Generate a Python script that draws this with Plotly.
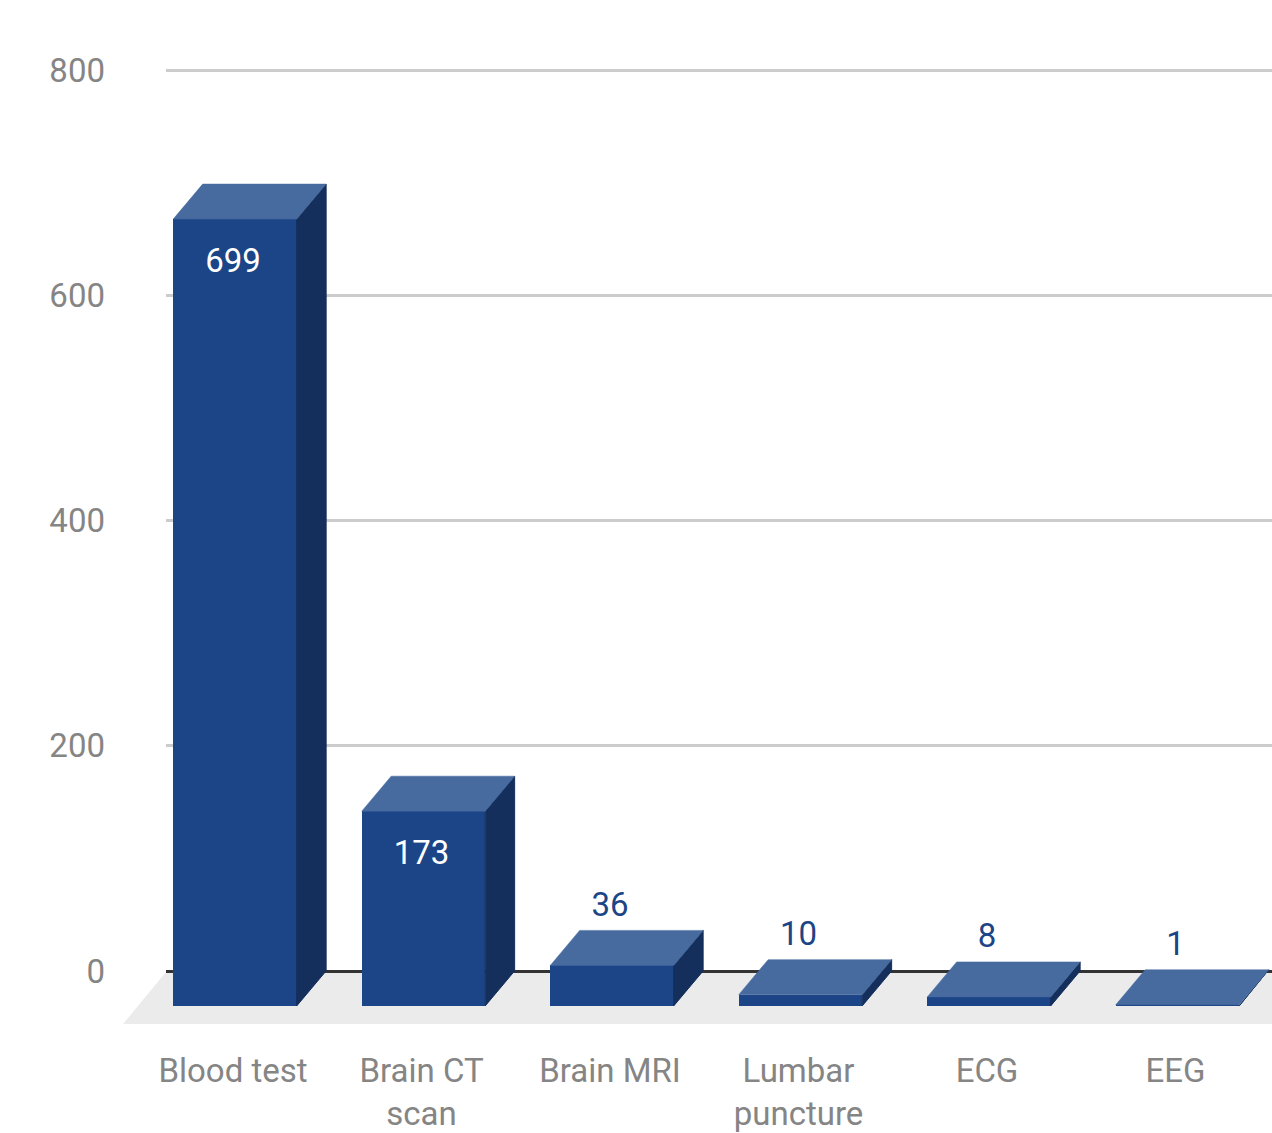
import plotly.graph_objects as go

categories = ["Blood test", "Brain CT<br>scan", "Brain MRI", "Lumbar<br>puncture", "ECG", "EEG"]
values = [699, 173, 36, 10, 8, 1]
y_ticks = [0, 200, 400, 600, 800]

FONT = "Roboto, sans-serif"
FONT_SIZE = 33
FRONT = "#1c4587"
SIDE = "#142f5c"
TOP = "#476a9f"
GRAY = "#858585"
W, H = 1272, 1133

# extruded look: the front face sits forward and below the back plane
bar_width = 0.655
bar_shift = 0.0106
depth_x = 0.156
depth_y = 31.1
floor_level = -31.0
positions = list(range(len(values)))
bar_x = [p + bar_shift for p in positions]

top_x, top_y, side_x, side_y = [], [], [], []
label_y, label_colors = [], []
for x, v in zip(bar_x, values):
    left = x - bar_width / 2
    right = left + bar_width
    front_top = floor_level + v
    back_top = front_top + depth_y
    top_x += [left, left + depth_x, right + depth_x, right, left, None]
    top_y += [front_top, back_top, back_top, front_top, front_top, None]
    side_x += [right, right + depth_x, right + depth_x, right, right, None]
    side_y += [floor_level, floor_level + depth_y, back_top, front_top, floor_level, None]
    if v > 100:
        label_y.append(front_top - 39.5)
        label_colors.append("#ffffff")
    else:
        label_y.append(back_top + 20.5)
        label_colors.append(FRONT)

fig = go.Figure()
fig.add_bar(
    x=bar_x, y=values, base=floor_level, width=bar_width,
    marker=dict(color=FRONT, line=dict(width=0)), hoverinfo="skip",
)
fig.add_scatter(
    x=side_x, y=side_y, mode="lines", fill="toself", fillcolor=SIDE,
    line=dict(width=1, color=SIDE), hoverinfo="skip",
)
fig.add_scatter(
    x=top_x, y=top_y, mode="lines", fill="toself", fillcolor=TOP,
    line=dict(width=0.5, color=TOP), hoverinfo="skip",
)
fig.add_scatter(
    x=positions, y=label_y, mode="text", text=[str(v) for v in values],
    textposition="middle center",
    textfont=dict(family=FONT, size=FONT_SIZE, color=label_colors),
    hoverinfo="skip", cliponaxis=False,
)

fig.update_layout(
    width=W, height=H,
    margin=dict(l=166, r=0, t=0, b=0, autoexpand=False),
    paper_bgcolor="white", plot_bgcolor="rgba(0,0,0,0)",
    showlegend=False, bargap=0,
    font=dict(family=FONT, size=FONT_SIZE, color=GRAY),
    shapes=[
        # grey floor under the columns
        dict(
            type="path", xref="paper", yref="paper", layer="below",
            path="M 0 0.1421 L 1.0 0.1421 L 1.0 0.0961 L -0.0389 0.0961 Z",
            fillcolor="#ebebeb", line=dict(width=0),
        )
    ],
)
fig.update_xaxes(
    range=[-0.3554, 5.512], tickmode="array", tickvals=positions, ticktext=categories,
    tickangle=0, ticks="", showgrid=False, zeroline=False,
    showline=True, linecolor="#333333", linewidth=2.5, layer="below traces",
    anchor="free", position=(H - 971) / H, ticklabelstandoff=70,
    tickfont=dict(family=FONT, size=FONT_SIZE, color=GRAY),
)
fig.update_yaxes(
    range=[-143.9, 862.6], tickmode="array", tickvals=y_ticks,
    ticks="", showgrid=True, gridcolor="#cccccc", gridwidth=3,
    zeroline=False, showline=False, ticklabelstandoff=60,
    tickfont=dict(family=FONT, size=FONT_SIZE, color=GRAY),
)

fig.write_html("out.html")
